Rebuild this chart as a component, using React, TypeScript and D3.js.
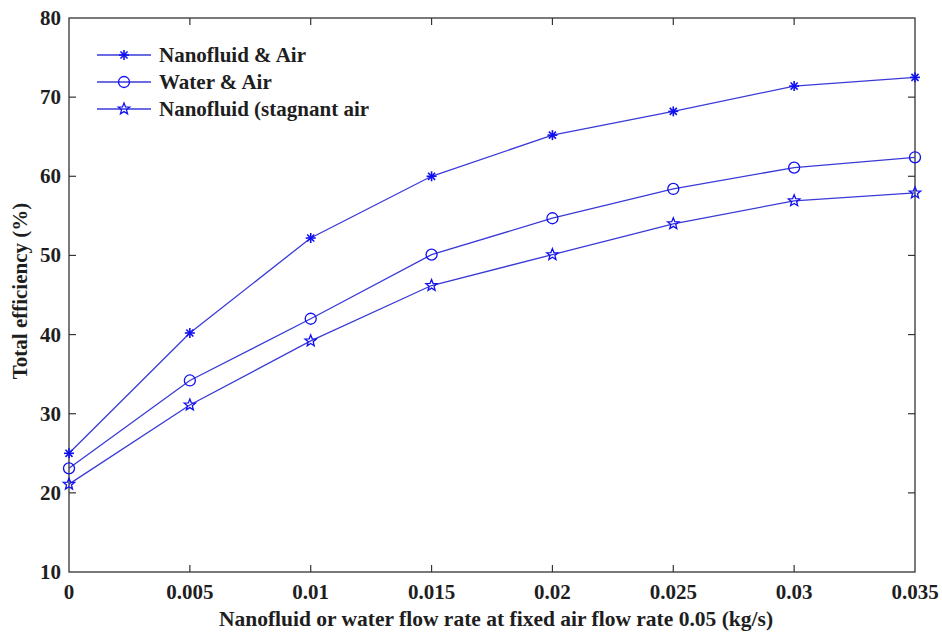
import * as d3 from "d3";

const flowRates = [0, 0.005, 0.01, 0.015, 0.02, 0.025, 0.03, 0.035];
const nanofluidAir = [25, 40.2, 52.2, 60, 65.2, 68.2, 71.4, 72.5];
const waterAir = [23.1, 34.2, 42, 50.1, 54.7, 58.4, 61.1, 62.4];
const nanofluidStagnant = [21.1, 31.1, 39.2, 46.2, 50.1, 54, 56.9, 57.9];
const xTicks = [0, 0.005, 0.01, 0.015, 0.02, 0.025, 0.03, 0.035];
const xTickLabels = ["0", "0.005", "0.01", "0.015", "0.02", "0.025", "0.03", "0.035"];
const yTicks = [10, 20, 30, 40, 50, 60, 70, 80];
const seriesNames = ["Nanofluid & Air", "Water & Air", "Nanofluid (stagnant air"];

const width = 942;
const height = 635;
const margin = { left: 69, right: 27, top: 18, bottom: 63 };
const lineColor = "#3a3ad8";
const markColor = "#1010f0";
const textColor = "#1e1e1e";
const textStyle = { fontFamily: "Liberation Serif, Times New Roman, serif", fontWeight: 700 } as const;

const Marker = ({ kind, x, y }: { kind: number; x: number; y: number }) => {
  if (kind === 0) {
    const r = 5;
    const lines = [0, 45, 90, 135].map(a => {
      const t = (a * Math.PI) / 180;
      return (
        <line key={a} x1={x - r * Math.cos(t)} y1={y - r * Math.sin(t)}
          x2={x + r * Math.cos(t)} y2={y + r * Math.sin(t)}
          stroke={markColor} strokeWidth={1.6} />
      );
    });
    return <g>{lines}</g>;
  }
  if (kind === 1) {
    return <circle cx={x} cy={y} r={5.5} fill="none" stroke={markColor} strokeWidth={1.3} />;
  }
  const pts = d3.range(10).map(i => {
    const a = -Math.PI / 2 + (i * Math.PI) / 5;
    const r = i % 2 === 0 ? 6 : 2.6;
    return [x + r * Math.cos(a), y + r * Math.sin(a)];
  });
  return <polygon points={pts.map(p => p.join(",")).join(" ")} fill="none" stroke={markColor} strokeWidth={1.3} />;
};

export default function App() {
  const x = d3.scaleLinear().domain([0, 0.035]).range([margin.left, width - margin.right]);
  const y = d3.scaleLinear().domain([10, 80]).range([height - margin.bottom, margin.top]);
  const series = [nanofluidAir, waterAir, nanofluidStagnant];
  const line = d3.line<number>().x((_, i) => x(flowRates[i])).y(d => y(d));

  const x0 = margin.left, x1 = width - margin.right;
  const y0 = height - margin.bottom, y1 = margin.top;
  const tick = 7;

  return (
    <svg width={width} height={height} style={{ position: "absolute", left: 0, top: 0, background: "#fff" }}>
      <rect x={0} y={0} width={width} height={height} fill="#fff" />
      {xTicks.slice(1, -1).map(t => (
        <g key={t}>
          <line x1={x(t)} x2={x(t)} y1={y0} y2={y0 - tick} stroke="#333" strokeWidth={1.2} />
          <line x1={x(t)} x2={x(t)} y1={y1} y2={y1 + tick} stroke="#333" strokeWidth={1.2} />
        </g>
      ))}
      {yTicks.slice(1, -1).map(t => (
        <g key={t}>
          <line x1={x0} x2={x0 + tick} y1={y(t)} y2={y(t)} stroke="#333" strokeWidth={1.2} />
          <line x1={x1} x2={x1 - tick} y1={y(t)} y2={y(t)} stroke="#333" strokeWidth={1.2} />
        </g>
      ))}
      <rect x={x0} y={y1} width={x1 - x0} height={y0 - y1} fill="none" stroke="#333" strokeWidth={1.3} />

      {series.map((s, k) => (
        <g key={k}>
          <path d={line(s) as string} fill="none" stroke={lineColor} strokeWidth={1.3} />
          {s.map((v, i) => <Marker key={i} kind={k} x={x(flowRates[i])} y={y(v)} />)}
        </g>
      ))}

      {xTicks.map((t, i) => (
        <text key={t} x={x(t)} y={y0 + 27} textAnchor="middle" style={textStyle} fontSize={21} fill={textColor}>
          {xTickLabels[i]}
        </text>
      ))}
      {yTicks.map(t => (
        <text key={t} x={x0 - 8} y={y(t) + 7} textAnchor="end" style={textStyle} fontSize={21} fill={textColor}>
          {t}
        </text>
      ))}

      <text x={496} y={height - 9} textAnchor="middle" style={textStyle} fontSize={21.5} fill={textColor}>
        Nanofluid or water flow rate at fixed air flow rate 0.05 (kg/s)
      </text>
      <text transform={`translate(27, 291) rotate(-90)`} textAnchor="middle" style={textStyle} fontSize={21} fill={textColor}>
        Total efficiency (%)
      </text>

      {seriesNames.map((name, k) => {
        const ly = 55 + k * 27;
        return (
          <g key={name}>
            <line x1={97} x2={151} y1={ly} y2={ly} stroke={lineColor} strokeWidth={1.3} />
            <Marker kind={k} x={124} y={ly} />
            <text x={159} y={ly + 7} style={textStyle} fontSize={21} fill={textColor}>
              {name}
            </text>
          </g>
        );
      })}
    </svg>
  );
}
